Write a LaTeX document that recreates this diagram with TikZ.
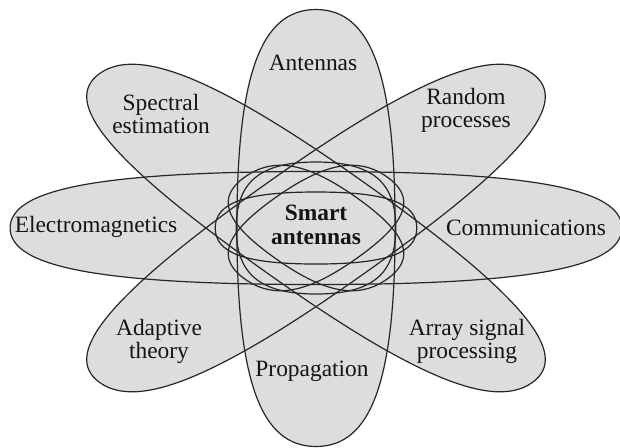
\documentclass[tikz,border=0pt]{standalone}
\usepackage{fontspec}
\setmainfont{Liberation Serif}
\definecolor{petal}{RGB}{220,221,223}
\definecolor{rim}{RGB}{38,38,38}
\definecolor{ink}{RGB}{20,20,20}
\begin{document}
\begin{tikzpicture}[x=0.5pt,y=-0.5pt,
  % a slightly "full" oval: four cubic arcs, semi-axes #1 (long) and #2 (short)
  oval/.style 2 args={insert path={(#1,0)
      .. controls (#1,0.70*#2) and (0.70*#1,#2) .. (0,#2)
      .. controls (-0.70*#1,#2) and (-#1,0.70*#2) .. (-#1,0)
      .. controls (-#1,-0.70*#2) and (-0.70*#1,-#2) .. (0,-#2)
      .. controls (0.70*#1,-#2) and (#1,-0.70*#2) .. cycle}},
  hub/.style={shift={(316,228)}, xscale=1.4},
  ovalfill/.style={fill=petal},
  ovalrim/.style={draw=rim, line width=0.6pt},
  lbl/.style={text=ink, align=center, inner sep=0pt,
    font=\fontsize{11.7}{11.6}\selectfont},
  hublbl/.style={lbl, font=\fontsize{11.7}{11.8}\selectfont\bfseries}]
\useasboundingbox (0,0) rectangle (620,447);

% fills first, so that every outline stays visible
\foreach \ang in {0,45,90,135}
  \path[ovalfill, hub, rotate=\ang, oval={218.5}{56.5}];
\path[ovalfill, hub, oval={72}{36}];

% outer petals
\foreach \ang in {0,45,90,135}
  \path[ovalrim, hub, rotate=\ang, oval={218.5}{56.5}];

% inner orbits round the hub
\path[ovalrim, hub, oval={72}{36}];
\path[ovalrim, hub, rotate=90, oval={66}{57}];
\path[ovalrim, hub, rotate=45, oval={72}{42}];
\path[ovalrim, hub, rotate=135, oval={72}{42}];

\node[lbl] (antennas) at (313,63) {Antennas};
\node[lbl] (spectral) at (161,114) {Spectral\\estimation};
\node[lbl] (random) at (466,110) {Random\\processes};
\node[lbl] (electro) at (96,227) {Electromagnetics};
\node[lbl] (comm) at (526,228) {Communications};
\node[hublbl] (smart) at (316,225) {Smart\\antennas};
\node[lbl] (adaptive) at (159,341) {Adaptive\\theory};
\node[lbl] (array) at (467,341) {Array signal\\processing};
\node[lbl] (prop) at (312,371) {Propagation};
\end{tikzpicture}
\end{document}
